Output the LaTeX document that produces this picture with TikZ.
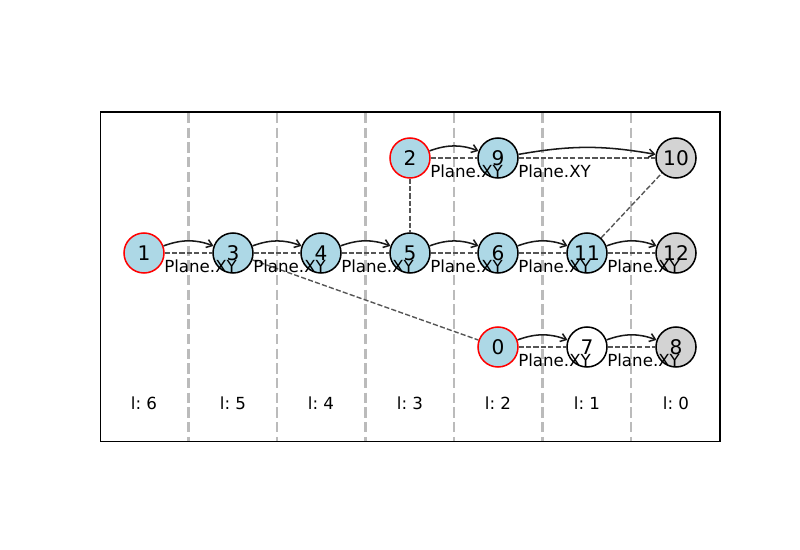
\documentclass[tikz,border=0pt]{standalone}
\usepackage{fontspec}
\setmainfont{DejaVu Sans}
\usetikzlibrary{arrows.meta,backgrounds}
\definecolor{nodeblue}{HTML}{ADD8E6}
\definecolor{nodegrey}{HTML}{D3D3D3}
\definecolor{planegrey}{HTML}{555555}
\definecolor{sepgrey}{HTML}{BBBBBB}
\frenchspacing

\begin{document}
\begin{tikzpicture}[x=0.72pt, y=-0.72pt,
    vert/.style={draw=black, circle, line width=1.1pt, minimum size=28.8pt, inner sep=0pt, font=\fontsize{14.5}{16}\selectfont},
    srcvert/.style={vert, draw=red},
    link/.style={-{Straight Barb[length=4pt,width=6pt]}, line width=1.1pt, black!90, bend left=20},
    plane/.style={planegrey, line width=1pt, dash pattern=on 3.7pt off 1.6pt},
    sepline/.style={sepgrey, line width=1.8pt, dash pattern=on 7.4pt off 3.2pt},
    planelabel/.style={anchor=west, inner sep=0pt, font=\fontsize{12}{14}\selectfont},
    lvl/.style={font=\fontsize{12}{14}\selectfont}]
    \useasboundingbox (0,0) rectangle (800,550);

    % Frame
    \draw[line width=0.8pt] (100.5,112) rectangle (720,441.5);

    % Level labels
    \node[lvl] (l6) at (144,403) {l: 6};
    \node[lvl] (l5) at (233,403) {l: 5};
    \node[lvl] (l4) at (321,403) {l: 4};
    \node[lvl] (l3) at (410,403) {l: 3};
    \node[lvl] (l2) at (498,403) {l: 2};
    \node[lvl] (l1) at (587,403) {l: 1};
    \node[lvl] (l0) at (676,403) {l: 0};

    % Vertices
    \node[srcvert, fill=nodeblue] (n1) at (144,253) {1};
    \node[vert, fill=nodeblue] (n3) at (233,253) {3};
    \node[vert, fill=nodeblue] (n4) at (321,253) {4};
    \node[vert, fill=nodeblue] (n5) at (410,253) {5};
    \node[vert, fill=nodeblue] (n6) at (498,253) {6};
    \node[vert, fill=nodeblue] (n11) at (587,253) {11};
    \node[vert, fill=nodegrey] (n12) at (676,253) {12};

    \node[srcvert, fill=nodeblue] (n2) at (410,158) {2};
    \node[vert, fill=nodeblue] (n9) at (498,158) {9};
    \node[vert, fill=nodegrey] (n10) at (676,158) {10};

    \node[srcvert, fill=nodeblue] (n0) at (498,347) {0};
    \node[vert, fill=white] (n7) at (587,347) {7};
    \node[vert, fill=nodegrey] (n8) at (676,347) {8};

    % Level separators and plane links, behind the vertices
    \begin{scope}[on background layer]
        \draw[sepline] (188.5,113) -- (188.5,441);
        \draw[sepline] (277,113) -- (277,441);
        \draw[sepline] (365.5,113) -- (365.5,441);
        \draw[sepline] (454,113) -- (454,441);
        \draw[sepline] (542.5,113) -- (542.5,441);
        \draw[sepline] (631,113) -- (631,441);

        \draw[plane] (n1) -- (n3);
        \draw[plane] (n3) -- (n4);
        \draw[plane] (n4) -- (n5);
        \draw[plane] (n5) -- (n6);
        \draw[plane] (n6) -- (n11);
        \draw[plane] (n11) -- (n12);
        \draw[plane] (n2) -- (n9);
        \draw[plane] (n9) -- (n10);
        \draw[plane] (n0) -- (n7);
        \draw[plane] (n7) -- (n8);
        \draw[plane] (n2) -- (n5);
        \draw[plane] (n3) -- (n0);
        \draw[plane] (n11) -- (n10);
    \end{scope}

    % Arrows
    \draw[link] (n1) to (n3);
    \draw[link] (n3) to (n4);
    \draw[link] (n4) to (n5);
    \draw[link] (n5) to (n6);
    \draw[link] (n6) to (n11);
    \draw[link] (n11) to (n12);
    \draw[link] (n2) to (n9);
    \draw[link, bend left=10] (n9) to (n10);
    \draw[link] (n0) to (n7);
    \draw[link] (n7) to (n8);

    % Plane labels
    \node[planelabel] (p13) at (164,266) {Plane.XY};
    \node[planelabel] (p34) at (253,266) {Plane.XY};
    \node[planelabel] (p45) at (341,266) {Plane.XY};
    \node[planelabel] (p56) at (430,266) {Plane.XY};
    \node[planelabel] (p611) at (518,266) {Plane.XY};
    \node[planelabel] (p1112) at (607,266) {Plane.XY};
    \node[planelabel] (p29) at (430,171) {Plane.XY};
    \node[planelabel] (p910) at (518,171) {Plane.XY};
    \node[planelabel] (p07) at (518,360) {Plane.XY};
    \node[planelabel] (p78) at (607,360) {Plane.XY};

\end{tikzpicture}
\end{document}
